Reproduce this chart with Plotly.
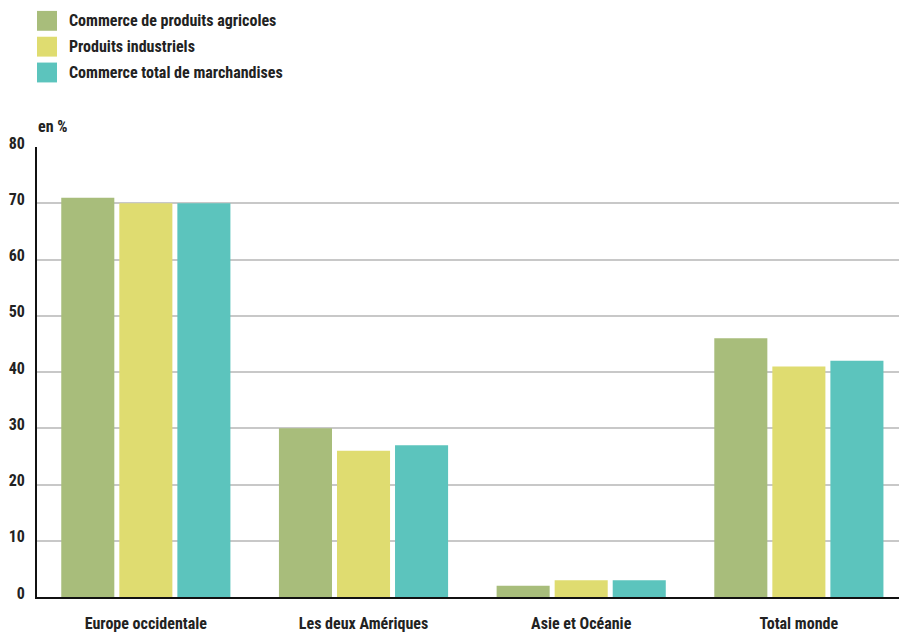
import plotly.graph_objects as go

categories = ["Europe occidentale", "Les deux Amériques", "Asie et Océanie", "Total monde"]
series_names = ["Commerce de produits agricoles", "Produits industriels", "Commerce total de marchandises"]
agricoles = [71, 30, 2, 46]
industriels = [70, 26, 3, 41]
total = [70, 27, 3, 42]
series_values = [agricoles, industriels, total]
colors = ["#a8bd7b", "#dfdc70", "#5cc4bd"]
y_ticks = [0, 10, 20, 30, 40, 50, 60, 70, 80]

W, H = 899, 633
L, R, T, B = 37, 0, 147, 33
PW, PH = W - L - R, H - T - B
FONT = "Liberation Sans Narrow, Roboto Condensed, Arial Narrow, sans-serif"
TXT = "#222222"
FS = 16

def px(x):
    return (x - L) / PW

def py(y):
    return (H - B - y) / PH

fig = go.Figure()
for name, vals, col in zip(series_names, series_values, colors):
    fig.add_trace(go.Bar(x=categories, y=vals, name=name, marker_color=col,
                         marker_line_width=0, showlegend=False))

shapes = []
annotations = []
for i, (name, col) in enumerate(zip(series_names, colors)):
    top = 10 + 26 * i
    shapes.append(dict(type="rect", xref="paper", yref="paper",
                       x0=px(37), x1=px(57), y0=py(top + 20), y1=py(top),
                       fillcolor=col, line_width=0))
    annotations.append(dict(xref="paper", yref="paper", x=px(67), y=py(top + 10),
                            text="<b>" + name + "</b>", showarrow=False,
                            xanchor="left", yanchor="middle",
                            font=dict(family=FONT, size=FS, color=TXT)))
annotations.append(dict(xref="paper", yref="paper", x=px(36), y=py(126),
                        text="<b>en %</b>", showarrow=False,
                        xanchor="left", yanchor="middle",
                        font=dict(family=FONT, size=FS, color=TXT)))

fig.update_layout(
    width=W, height=H,
    margin=dict(l=L, r=R, t=T, b=B, pad=0),
    paper_bgcolor="white", plot_bgcolor="white",
    barmode="group", bargap=0.2, bargroupgap=0.086,
    shapes=shapes, annotations=annotations,
    font=dict(family=FONT, size=FS, color=TXT),
)
fig.update_xaxes(range=[-0.5, 3.46], showgrid=False, showline=True,
                 linecolor="#111111", linewidth=2, ticks="",
                 tickfont=dict(family=FONT, size=FS, color=TXT),
                 tickprefix="<b>", ticksuffix="</b>", ticklabelstandoff=11)
fig.update_yaxes(range=[0, 80], tickvals=y_ticks,
                 ticktext=["<b>%d</b>" % v for v in y_ticks],
                 showgrid=True, gridcolor="#c8c8c8", gridwidth=2,
                 showline=True, linecolor="#111111", linewidth=2,
                 zeroline=False, ticks="", ticklabelstandoff=7, ticklabelshift=-4,
                 tickfont=dict(family=FONT, size=FS, color=TXT))

fig.write_html("out.html", config={"displayModeBar": False},
               post_script="document.body.style.margin='0px';")
